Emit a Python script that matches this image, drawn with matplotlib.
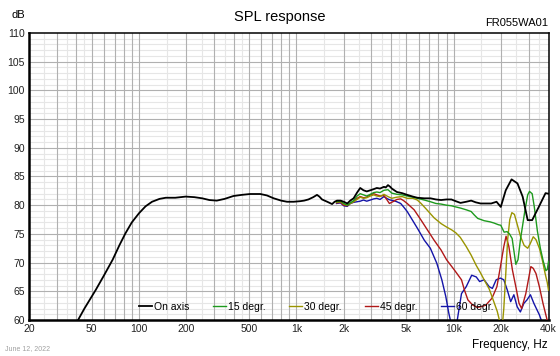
import matplotlib
matplotlib.use("Agg")
import matplotlib.pyplot as plt
from matplotlib.ticker import FixedLocator, FixedFormatter, NullLocator

plt.rcParams['font.family'] = ['Liberation Sans', 'DejaVu Sans']

# ---- data ----
onaxis_f = [41, 45, 53, 60, 68, 75, 82, 90, 100, 110, 121, 135, 148, 170, 198, 225, 252, 280,
            312, 350, 398, 450, 508, 590, 650, 718, 800, 872, 960, 1058, 1120, 1192, 1280, 1352,
            1400, 1456, 1570, 1686, 1750, 1812, 1910, 2000, 2106, 2200, 2310, 2430, 2545, 2670,
            2800, 2950, 3100, 3245, 3400, 3600, 3700, 3820, 3950, 4040, 4350, 4700, 5060, 5500,
            5870, 6500, 7120, 7700, 8300, 9000, 9660, 10300, 11040, 12000, 12900, 13800, 14800,
            16000, 17300, 18700, 19900, 21400, 23300, 25400, 27400, 29500, 31500, 34700, 38300,
            40000]
onaxis_db = [60.0, 62.0, 65.2, 67.8, 70.5, 73.0, 75.1, 77.0, 78.6, 79.8, 80.6, 81.1, 81.3, 81.3,
             81.5, 81.4, 81.2, 80.9, 80.8, 81.1, 81.6, 81.8, 81.95, 81.95, 81.7, 81.2, 80.8, 80.6,
             80.6, 80.7, 80.8, 81.0, 81.4, 81.8, 81.5, 81.0, 80.6, 80.2, 80.6, 80.8, 80.8, 80.6,
             80.3, 80.8, 81.2, 82.2, 83.0, 82.6, 82.4, 82.6, 82.8, 83.0, 82.9, 83.2, 83.1, 83.5,
             83.2, 82.9, 82.3, 82.1, 81.8, 81.5, 81.3, 81.2, 81.2, 81.0, 80.9, 81.0, 81.0, 80.7,
             80.4, 80.6, 80.8, 80.5, 80.3, 80.3, 80.3, 80.6, 79.7, 82.6, 84.5, 83.8, 81.5, 77.4,
             77.4, 79.7, 82.1, 82.0]

deg15_f = [1800, 1910, 2000, 2106, 2200, 2310, 2430, 2545, 2670, 2800, 2950, 3100, 3245, 3400,
           3600, 3820, 4040, 4350, 4700, 5060, 5500, 5870, 6500, 7120, 7700, 8300, 9000, 9660,
           10300, 11040, 12000, 12900, 13500, 14200, 15600, 17000, 18000, 19200, 19900, 20900,
           21800, 22600, 23500, 24800, 25600, 26500, 27400, 28300, 29500, 30300, 31500, 32500,
           34000, 35500, 37000, 38500, 39300, 40000]
deg15_db = [80.6, 80.7, 80.3, 80.0, 80.4, 80.8, 81.6, 82.0, 81.8, 81.6, 81.9, 82.2, 82.3, 82.2,
            82.6, 82.7, 82.1, 81.9, 81.8, 81.6, 81.4, 81.2, 80.9, 80.6, 80.3, 80.2, 80.0, 79.9,
            79.7, 79.5, 79.2, 78.9, 78.3, 77.7, 77.3, 77.1, 76.9, 76.6, 76.5, 75.3, 75.4, 75.0,
            74.2, 69.7, 70.5, 73.9, 76.5, 79.0, 81.8, 82.4, 82.0, 79.7, 75.5, 72.5, 70.3, 68.6,
            68.8, 70.2]

deg30_f = [1800, 1910, 2000, 2106, 2200, 2310, 2430, 2545, 2670, 2800, 2950, 3100, 3245, 3400,
           3600, 3820, 4040, 4350, 4700, 5060, 5500, 5870, 6200, 6700, 7500, 8300, 9000, 9700,
           10300, 11000, 12000, 12900, 13900, 14800, 15600, 16800, 17800, 18900, 19700, 20200,
           20800, 21400, 22000, 22700, 23400, 24300, 25400, 26600, 28000, 29500, 30500, 32000,
           33300, 35000, 36500, 38000, 39300, 40000]
deg30_db = [80.5, 80.6, 80.2, 80.0, 80.3, 80.6, 81.0, 81.4, 81.2, 81.3, 81.6, 81.8, 81.6, 81.5,
            81.9, 81.5, 81.2, 81.4, 81.5, 81.2, 81.2, 80.9, 80.3, 79.3, 77.8, 76.8, 76.2, 75.7,
            75.2, 74.4, 72.8, 71.3, 69.5, 68.2, 67.0, 65.4, 63.5, 61.5, 59.5, 58.0, 62.0, 68.0,
            74.0, 77.5, 78.7, 78.4, 76.5, 74.5, 73.0, 72.5, 73.2, 74.5, 74.0, 72.5, 70.5, 68.2,
            66.5, 65.2]

deg45_f = [1800, 1910, 2000, 2106, 2200, 2310, 2430, 2545, 2670, 2800, 2950, 3100, 3245, 3400,
           3600, 3750, 3900, 4100, 4350, 4600, 4800, 5060, 5600, 6200, 6800, 7500, 8300, 9000,
           10100, 11200, 11700, 12300, 13200, 14100, 14900, 16000, 17500, 18800, 19800, 20800,
           21500, 22400, 23600, 24800, 26000, 27000, 28700, 30900, 32000, 33300, 35000, 36900,
           38800, 40000]
deg45_db = [80.4, 80.5, 80.0, 79.9, 80.3, 80.6, 81.2, 81.5, 81.3, 81.4, 81.8, 82.0, 81.8, 81.6,
            81.7, 81.0, 80.3, 80.6, 81.0, 81.1, 80.8, 80.3, 79.2, 77.4, 75.7, 73.9, 72.2, 70.5,
            68.7, 67.0, 65.2, 63.5, 62.6, 62.2, 62.3, 62.6, 63.8, 65.8, 69.3, 72.8, 74.6, 72.8,
            68.7, 65.8, 62.9, 62.0, 64.6, 69.3, 69.0, 68.1, 65.8, 62.9, 60.5, 59.0]

deg60_f = [1800, 1910, 2000, 2106, 2200, 2310, 2430, 2545, 2670, 2800, 2950, 3100, 3245, 3400,
           3600, 3800, 3950, 4150, 4350, 4600, 4800, 5060, 5300, 5870, 6500, 7100, 7800, 8400,
           8900, 9300, 9600, 10000, 10400, 10600, 11200, 12000, 13000, 13900, 14600, 15600, 16800,
           17600, 18600, 19800, 20800, 21900, 23000, 24100, 25300, 26500, 27900, 29200, 30700,
           32300, 35000, 36500, 38000]
deg60_db = [80.3, 80.4, 79.9, 79.8, 80.3, 80.5, 80.6, 80.7, 80.9, 80.7, 80.9, 81.1, 81.2, 81.0,
            81.5, 81.1, 80.9, 80.8, 80.6, 80.3, 79.7, 78.9, 78.0, 76.0, 73.9, 72.5, 69.9, 67.0,
            64.1, 61.2, 59.5, 57.5, 59.0, 60.5, 64.6, 65.8, 67.8, 67.5, 66.7, 67.0, 65.8, 65.5,
            67.0, 67.3, 67.0, 65.2, 63.2, 64.4, 62.3, 61.4, 62.9, 63.5, 64.4, 62.9, 60.9, 59.5,
            58.0]

xtick_vals = [20, 50, 100, 200, 500, 1000, 2000, 5000, 10000, 20000, 40000]
xtick_labels = ['20', '50', '100', '200', '500', '1k', '2k', '5k', '10k', '20k', '40k']
ytick_vals = [60, 65, 70, 75, 80, 85, 90, 95, 100, 105, 110]

# ---- figure ----
fig = plt.figure(figsize=(5.6, 3.56), dpi=100)
ax = fig.add_axes([29 / 560, 36 / 356, 519.5 / 560, 287 / 356])
ax.set_xscale('log')
ax.set_xlim(20, 40000)
ax.set_ylim(60, 110)

# grid
for dec in [10, 100, 1000, 10000]:
    for m in [1.5, 2.5, 3.5, 4.5]:
        if 20 < m * dec < 40000:
            ax.axvline(m * dec, color='#e6e6e6', lw=0.8, zorder=0)
    for m in range(1, 10):
        if 20 < m * dec < 40000:
            ax.axvline(m * dec, color='#b0b0b0', lw=0.8, zorder=0.5)
for v in range(61, 110):
    c = '#b0b0b0' if v % 5 == 0 else '#e6e6e6'
    ax.axhline(v, color=c, lw=0.8, zorder=0.5 if v % 5 == 0 else 0)

# curves
ax.plot(onaxis_f, onaxis_db, color='black', lw=1.3, label='On axis', zorder=6)
ax.plot(deg15_f, deg15_db, color='#1e9a1e', lw=1.0, label='15 degr.', zorder=5)
ax.plot(deg30_f, deg30_db, color='#9a9400', lw=1.0, label='30 degr.', zorder=4)
ax.plot(deg45_f, deg45_db, color='#b01818', lw=1.0, label='45 degr.', zorder=3)
ax.plot(deg60_f, deg60_db, color='#1414a8', lw=1.0, label='60 degr.', zorder=2)

ax.xaxis.set_major_locator(FixedLocator(xtick_vals))
ax.xaxis.set_major_formatter(FixedFormatter(xtick_labels))
ax.xaxis.set_minor_locator(NullLocator())
ax.set_yticks(ytick_vals)
ax.tick_params(axis='both', length=0, labelsize=7.5, pad=3, colors='#222222')

for s in ['left', 'bottom']:
    ax.spines[s].set_linewidth(1.8)
for s in ['top', 'right']:
    ax.spines[s].set_linewidth(1.1)

leg = ax.legend(loc='lower center', bbox_to_anchor=(0.553, 0.0), ncol=5, frameon=False,
                fontsize=7.5, handlelength=1.3, handletextpad=0.2, columnspacing=2.2,
                borderaxespad=0.4)
leg.set_zorder(10)

fig.text(0.5, 0.952, 'SPL response', ha='center', va='center', fontsize=10.5)
fig.text(12 / 560, 0.958, 'dB', ha='left', va='center', fontsize=8)
fig.text(548 / 560, 0.935, 'FR055WA01', ha='right', va='center', fontsize=8)
fig.text(548 / 560, 0.03, 'Frequency, Hz', ha='right', va='center', fontsize=8.5)
fig.text(5 / 560, 0.022, 'June 12, 2022', ha='left', va='center', fontsize=5, color='#a0a0a0')

fig.savefig('out.png', dpi=100)
